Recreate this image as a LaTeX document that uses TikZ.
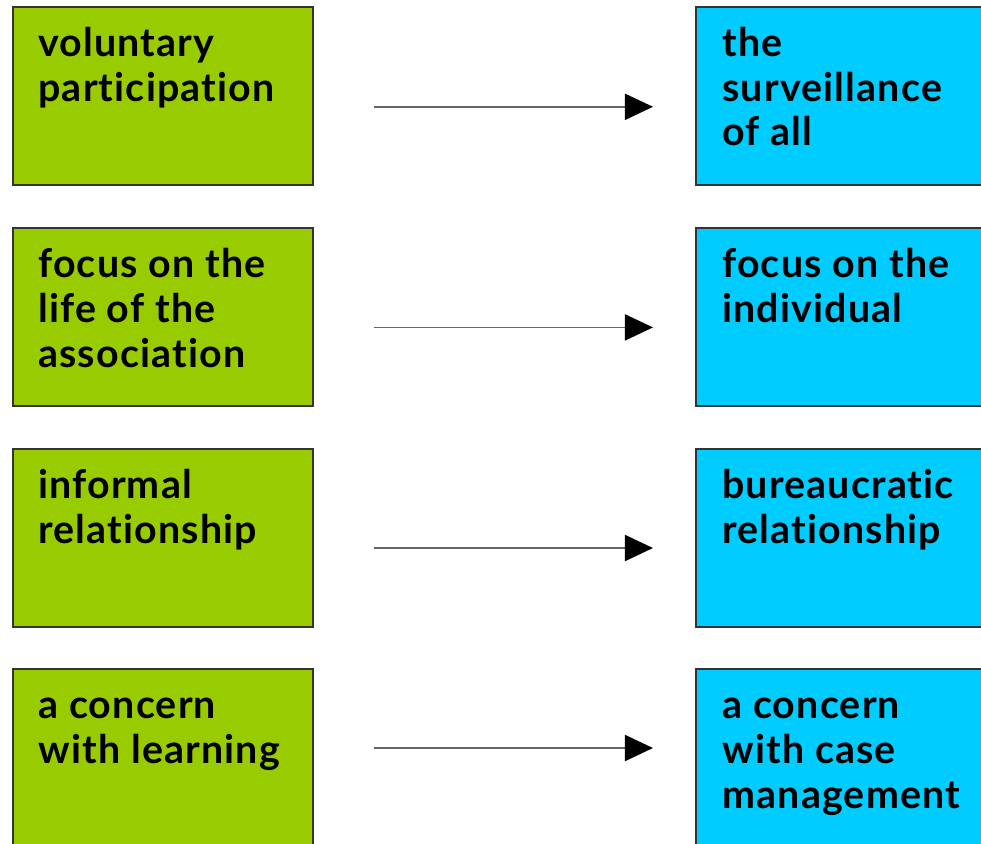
\documentclass[tikz,border=0pt]{standalone}
\usepackage{fontspec}
\setmainfont{Lato}[LetterSpace=3, Ligatures=NoCommon]
\usetikzlibrary{arrows.meta}
\newcommand\cardtext[1]{\parbox[t]{7cm}{\raggedright #1}}

\begin{document}
\begin{tikzpicture}[x=0.025cm, y=-0.025cm,
    % Colors
    cgreen/.style={fill={rgb,255:red,153;green,204;blue,0}},
    cblue/.style={fill={rgb,255:red,0;green,204;blue,255}},
    % Styles
    card/.style={draw=black!80, line width=1.4pt, minimum width=7.5cm, minimum height=4.45cm,
                 anchor=north west, inner sep=0pt},
    txt/.style={anchor=base west, inner sep=0pt, font=\bfseries\fontsize{28}{32}\selectfont},
    arrow/.style={-{Triangle[length=0.7cm, width=0.65cm, color=black]}, line width=1.3pt,
                  color=black!60, shorten <=1.5cm, shorten >=1.05cm},
  ]
  \useasboundingbox (0,0) rectangle (981,843);
  \clip (0,0) rectangle (981,843);

  % Left column
  \node[card, cgreen] (vol) at (12,6) {};
  \node[txt] (volt) at ([shift={(26,50)}]vol.north west) {\cardtext{voluntary\\participation}};

  \node[card, cgreen] (lif) at (12,227) {};
  \node[txt] (lift) at ([shift={(26,50)}]lif.north west) {\cardtext{focus on the\\life of the\\association}};

  \node[card, cgreen] (inf) at (12,448) {};
  \node[txt] (inft) at ([shift={(26,50)}]inf.north west) {\cardtext{informal\\relationship}};

  \node[card, cgreen] (lea) at (12,668) {};
  \node[txt] (leat) at ([shift={(26,50)}]lea.north west) {\cardtext{a concern\\with learning}};

  % Right column
  \node[card, cblue] (sur) at (695,6) {};
  \node[txt] (surt) at ([shift={(27,50)}]sur.north west) {\cardtext{the\\surveillance\\of all}};

  \node[card, cblue] (ind) at (695,227) {};
  \node[txt] (indt) at ([shift={(27,50)}]ind.north west) {\cardtext{focus on the\\individual}};

  \node[card, cblue] (bur) at (695,448) {};
  \node[txt] (burt) at ([shift={(27,50)}]bur.north west) {\cardtext{bureaucratic\\relationship}};

  \node[card, cblue] (cas) at (695,668) {};
  \node[txt] (cast) at ([shift={(27,50)}]cas.north west) {\cardtext{a concern\\with case\\management}};

  % Arrows
  \draw[arrow] ([yshift=-0.27cm]vol.east) -- ([yshift=-0.27cm]sur.west);
  \draw[arrow] ([yshift=-0.26cm]lif.east) -- ([yshift=-0.26cm]ind.west);
  \draw[arrow] ([yshift=-0.25cm]inf.east) -- ([yshift=-0.25cm]bur.west);
  \draw[arrow] ([yshift=0.25cm]lea.east) -- ([yshift=0.25cm]cas.west);

\end{tikzpicture}
\end{document}
